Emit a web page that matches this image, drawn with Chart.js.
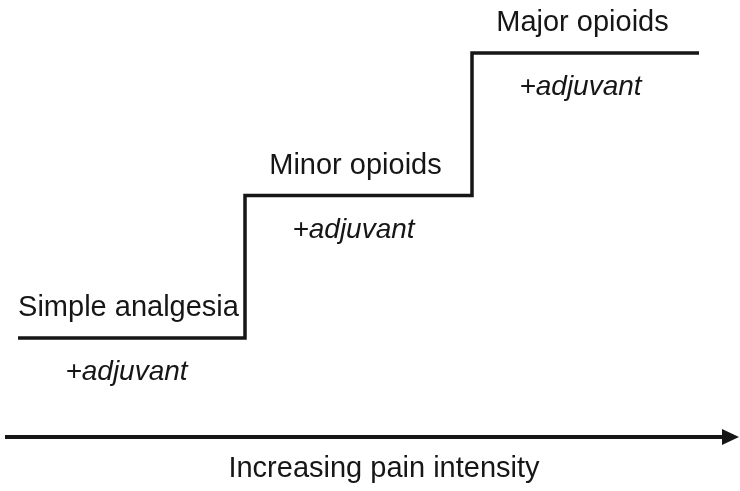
<!DOCTYPE html>
<html>
<head>
<meta charset="utf-8">
<script src="https://cdn.jsdelivr.net/npm/chart.js@4/dist/chart.umd.min.js"></script>
<style>
  body { margin: 0; background: #fff; }
  canvas { display: block; }
</style>
</head>
<body>
<canvas id="ladderChart" width="740" height="491"></canvas>
<script>
// paliers de l'echelle antalgique
const steps = ["Simple analgesia", "Minor opioids", "Major opioids"];
const stepStart = [0, 1, 2];
const stepEnd = [1, 2, 3];
const stepLevel = [1, 2, 3];
const adjuvant = ["+adjuvant", "+adjuvant", "+adjuvant"];
const axisTitle = "Increasing pain intensity";

// points pour la ligne en escalier
const points = [];
for (let i = 0; i < steps.length; i++) {
	points.push({ x: stepStart[i], y: stepLevel[i] });
}
points.push({ x: stepEnd[steps.length - 1], y: stepLevel[steps.length - 1] });

const ink = "#161616";

const labelsPlugin = {
	id: "ladderLabels",
	afterDatasetsDraw(chart) {
		const ctx = chart.ctx;
		const xs = chart.scales.x;
		const ys = chart.scales.y;
		ctx.save();
		ctx.fillStyle = ink;
		ctx.textAlign = "center";
		for (let i = 0; i < steps.length; i++) {
			const cx = xs.getPixelForValue((stepStart[i] + stepEnd[i]) / 2);
			const py = ys.getPixelForValue(stepLevel[i]);
			ctx.font = "29px 'Liberation Sans', Arial, sans-serif";
			ctx.textBaseline = "alphabetic";
			ctx.fillText(steps[i], cx - 3, py - 22);
			ctx.font = "italic 28px 'Liberation Sans', Arial, sans-serif";
			ctx.fillText(adjuvant[i], cx - 5, py + 42);
		}

		// fleche horizontale en bas
		const ay = chart.chartArea.top + 437;
		ctx.strokeStyle = ink;
		ctx.lineWidth = 4;
		ctx.beginPath();
		ctx.moveTo(5, ay);
		ctx.lineTo(726, ay);
		ctx.stroke();
		ctx.beginPath();
		ctx.moveTo(739, ay);
		ctx.lineTo(722, ay - 8);
		ctx.lineTo(722, ay + 8);
		ctx.closePath();
		ctx.fill();

		ctx.font = "29px 'Liberation Sans', Arial, sans-serif";
		ctx.fillText(axisTitle, 384, ay + 40);
		ctx.restore();
	},
};

new Chart(document.getElementById("ladderChart").getContext("2d"), {
	type: "line",
	data: {
		datasets: [
			{
				data: points,
				stepped: "before",
				borderColor: ink,
				borderWidth: 3.5,
				borderJoinStyle: "miter",
				borderCapStyle: "butt",
				pointRadius: 0,
				fill: false,
			},
		],
	},
	options: {
		responsive: false,
		animation: false,
		layout: { padding: 0 },
		plugins: {
			legend: { display: false },
			tooltip: { enabled: false },
		},
		scales: {
			x: { type: "linear", min: -0.0793, max: 3.1806, display: false },
			y: { type: "linear", min: -0.0737, max: 3.372, display: false },
		},
	},
	plugins: [labelsPlugin],
});
</script>
</body>
</html>
